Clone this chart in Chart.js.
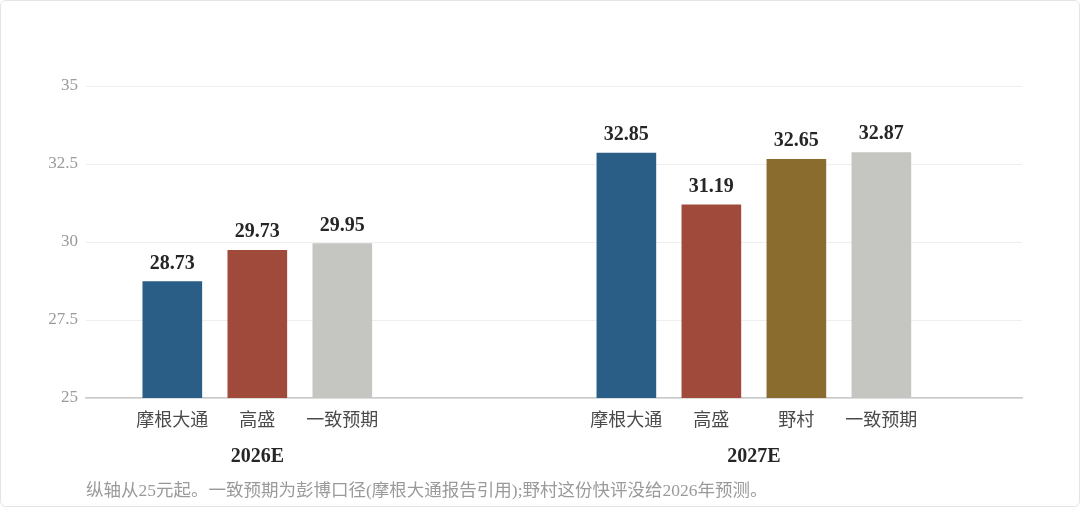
<!DOCTYPE html>
<html>
<head>
<meta charset="utf-8">
<script src="https://cdn.jsdelivr.net/npm/chart.js@4/dist/chart.umd.min.js"></script>
<style>
  html, body { margin: 0; padding: 0; background: #ffffff; }
  #wrap { position: relative; width: 1080px; height: 507px; overflow: hidden; background: #ffffff; }
  #frame { position: absolute; left: 0; top: 0; width: 1078px; height: 505px; border: 1px solid #e4e4e1; border-radius: 6px; pointer-events: none; }
  #note { position: absolute; left: 86px; top: 478px; font-family: 'Liberation Serif', 'Noto Sans CJK SC', serif; font-size: 17.5px; color: #9a9a9a; white-space: nowrap; line-height: 24px; }
</style>
</head>
<body>
<div id="wrap">
  <canvas id="c"></canvas>
  <div id="note">纵轴从25元起。一致预期为彭博口径(摩根大通报告引用);野村这份快评没给2026年预测。</div>
  <div id="frame"></div>
</div>
<script>
// ---- data ----
const groups = ['2026E', '2027E'];
const brokers = ['摩根大通', '高盛', '野村', '一致预期'];
const values2026 = [28.73, 29.73, null, 29.95];
const values2027 = [32.85, 31.19, 32.65, 32.87];
const brokerColors = ['#2b5e87', '#a04a3b', '#8a6d2e', '#c5c5c1'];
const yTicks = [25, 27.5, 30, 32.5, 35];

const FONT = "'Liberation Serif', 'Noto Sans CJK SC', serif";

const datasets = brokers.map((name, i) => ({
  label: name,
  data: [
    { x: 0, y: values2026[i] },
    { x: 1, y: values2027[i] }
  ],
  backgroundColor: brokerColors[i],
  borderWidth: 0,
  barThickness: 85,
  maxBarThickness: 59,
  skipNull: true
}));

const labelPlugin = {
  id: 'barLabels',
  afterDatasetsDraw(chart) {
    const ctx = chart.ctx;
    const area = chart.chartArea;
    ctx.save();
    chart.data.datasets.forEach((ds, di) => {
      const meta = chart.getDatasetMeta(di);
      meta.data.forEach((el, j) => {
        const v = ds.data[j].y;
        if (v === null || v === undefined) return;
        ctx.font = "bold 20px " + FONT;
        ctx.fillStyle = '#262626';
        ctx.textAlign = 'center';
        ctx.textBaseline = 'alphabetic';
        ctx.fillText(v.toFixed(2), el.x, el.y - 13);
        ctx.font = "18px " + FONT;
        ctx.fillStyle = '#4a4a4a';
        ctx.textBaseline = 'middle';
        ctx.fillText(brokers[di], el.x, area.bottom + 23);
      });
    });
    ctx.restore();
  }
};

new Chart(document.getElementById('c'), {
  type: 'bar',
  data: { datasets },
  options: {
    responsive: true,
    maintainAspectRatio: false,
    animation: false,
    layout: { padding: { top: 86, right: 58, bottom: 37, left: 0 } },
    plugins: {
      legend: { display: false },
      tooltip: { enabled: false }
    },
    scales: {
      x: {
        type: 'linear',
        offset: false,
        min: -0.345,
        max: 1.540,
        grid: { display: false, drawTicks: false, offset: false },
        border: { display: true, color: '#c9c9c9', width: 1.5 },
        afterDataLimits: (scale) => { scale.min = -0.345; scale.max = 1.540; },
        afterBuildTicks: (scale) => { scale.ticks = groups.map((g, i) => ({ value: i })); },
        afterFit: (scale) => { scale.height = 72; },
        ticks: {
          autoSkip: false,
          padding: 47,
          maxRotation: 0,
          color: '#262626',
          font: { family: FONT, size: 20, weight: 'bold' },
          callback: (v) => groups[v]
        }
      },
      y: {
        min: 25,
        max: 35,
        afterBuildTicks: (scale) => { scale.ticks = yTicks.map(v => ({ value: v })); },
        afterFit: (scale) => { scale.width = 86; },
        grid: { color: '#efefef', lineWidth: 1, drawTicks: false },
        border: { display: false },
        ticks: {
          padding: 8,
          color: '#9a9a9a',
          font: { family: FONT, size: 17 },
          callback: (v) => String(v)
        }
      }
    }
  },
  plugins: [labelPlugin]
});
</script>
</body>
</html>
